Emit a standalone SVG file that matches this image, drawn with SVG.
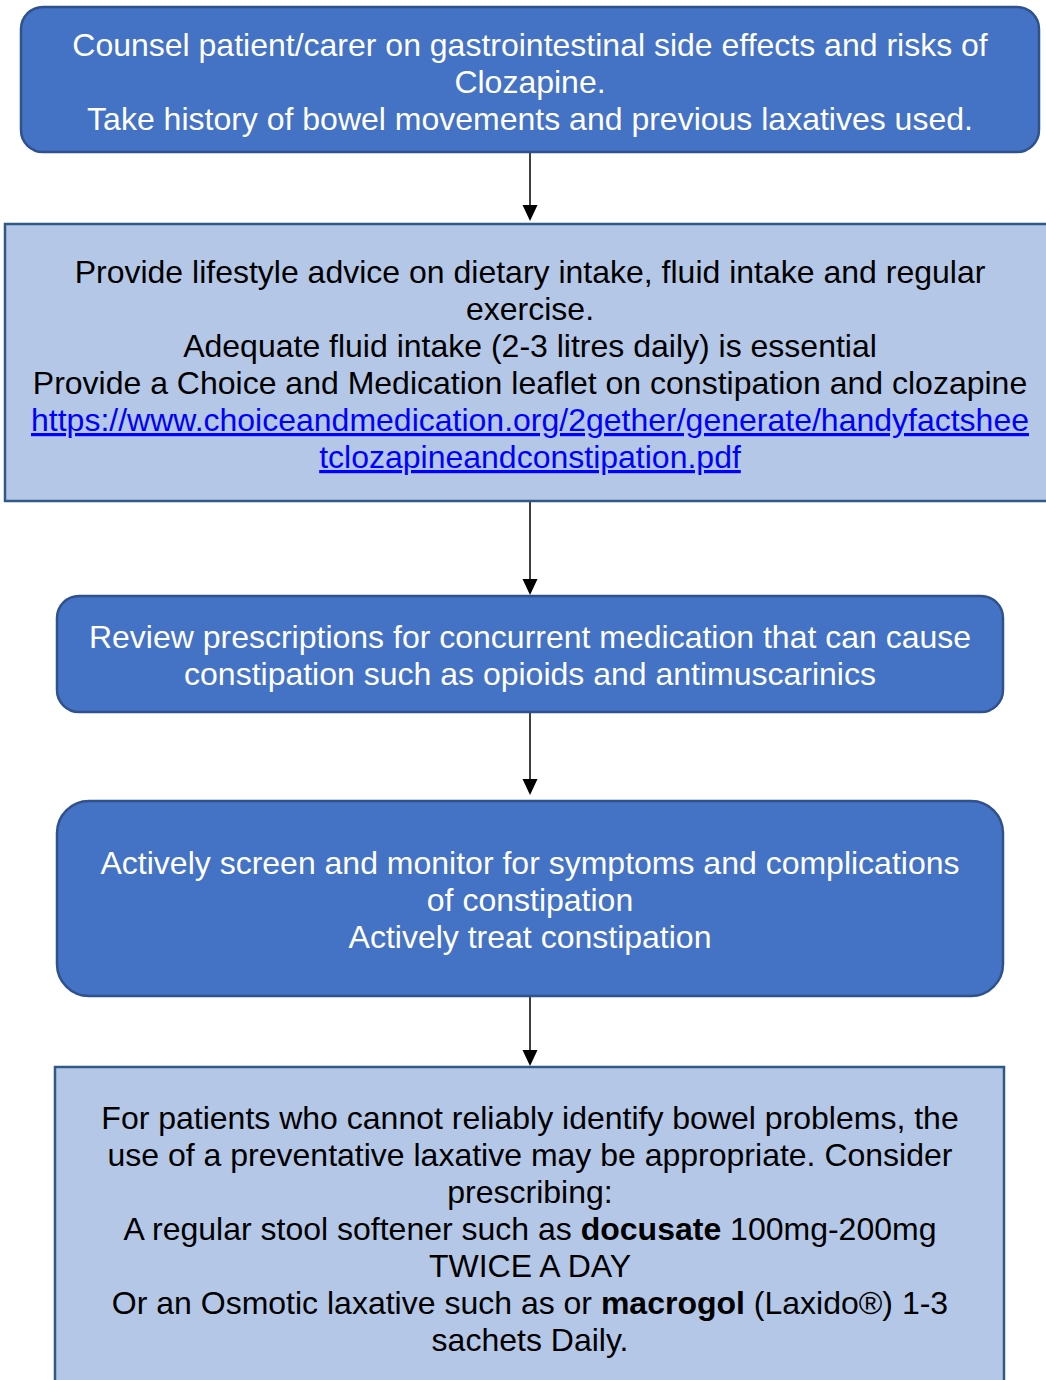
<svg xmlns="http://www.w3.org/2000/svg" width="1046" height="1380" viewBox="0 0 1046 1380">
<style>
text{font-family:"Liberation Sans",Arial,sans-serif;font-size:32px;text-anchor:middle}
.dark rect{fill:#4472C4;stroke:#2F528F;stroke-width:2.5}
.dark text{fill:#FFFFFF}
.light rect{fill:#B4C7E7;stroke:#2F5A87;stroke-width:2.5}
.light text{fill:#000000}
.light text.link{fill:#0000FF;text-decoration:underline}
.b{font-weight:bold}
#connectors line{stroke:#000;stroke-width:1.5}
</style>
<rect width="1046" height="1380" fill="#FFFFFF"/>
<g id="connectors">
<line x1="530" y1="152" x2="530" y2="206"/>
<path d="M522.5,205 L537.5,205 L530,221 z"/>
<line x1="530" y1="502" x2="530" y2="580"/>
<path d="M522.5,579 L537.5,579 L530,595 z"/>
<line x1="530" y1="712" x2="530" y2="780"/>
<path d="M522.5,779 L537.5,779 L530,795 z"/>
<line x1="530" y1="996" x2="530" y2="1051"/>
<path d="M522.5,1050 L537.5,1050 L530,1066 z"/>
</g>
<g id="node1" class="dark">
<rect x="21" y="7" width="1018" height="145" rx="22"/>
<text x="530" y="56">Counsel patient/carer on gastrointestinal side effects and risks of</text>
<text x="530" y="93">Clozapine.</text>
<text x="530" y="130">Take history of bowel movements and previous laxatives used.</text>
</g>
<g id="node2" class="light">
<rect x="5" y="224" width="1050" height="277"/>
<text x="530" y="283">Provide lifestyle advice on dietary intake, fluid intake and regular</text>
<text x="530" y="320">exercise.</text>
<text x="530" y="357">Adequate fluid intake (2-3 litres daily) is essential</text>
<text x="530" y="394">Provide a Choice and Medication leaflet on constipation and clozapine</text>
<text x="530" y="431" class="link">https://www.choiceandmedication.org/2gether/generate/handyfactshee</text>
<text x="530" y="468" class="link">tclozapineandconstipation.pdf</text>
</g>
<g id="node3" class="dark">
<rect x="57" y="596" width="946" height="116" rx="22"/>
<text x="530" y="648">Review prescriptions for concurrent medication that can cause</text>
<text x="530" y="685">constipation such as opioids and antimuscarinics</text>
</g>
<g id="node4" class="dark">
<rect x="57" y="801" width="946" height="195" rx="32"/>
<text x="530" y="874">Actively screen and monitor for symptoms and complications</text>
<text x="530" y="911">of constipation</text>
<text x="530" y="948">Actively treat constipation</text>
</g>
<g id="node5" class="light">
<rect x="55" y="1067" width="949" height="330"/>
<text x="530" y="1129">For patients who cannot reliably identify bowel problems, the</text>
<text x="530" y="1166">use of a preventative laxative may be appropriate. Consider</text>
<text x="530" y="1203">prescribing:</text>
<text x="530" y="1240">A regular stool softener such as <tspan class="b">docusate</tspan> 100mg-200mg</text>
<text x="530" y="1277">TWICE A DAY</text>
<text x="530" y="1314">Or an Osmotic laxative such as or <tspan class="b">macrogol</tspan> (Laxido®) 1-3</text>
<text x="530" y="1351">sachets Daily.</text>
</g>
</svg>
